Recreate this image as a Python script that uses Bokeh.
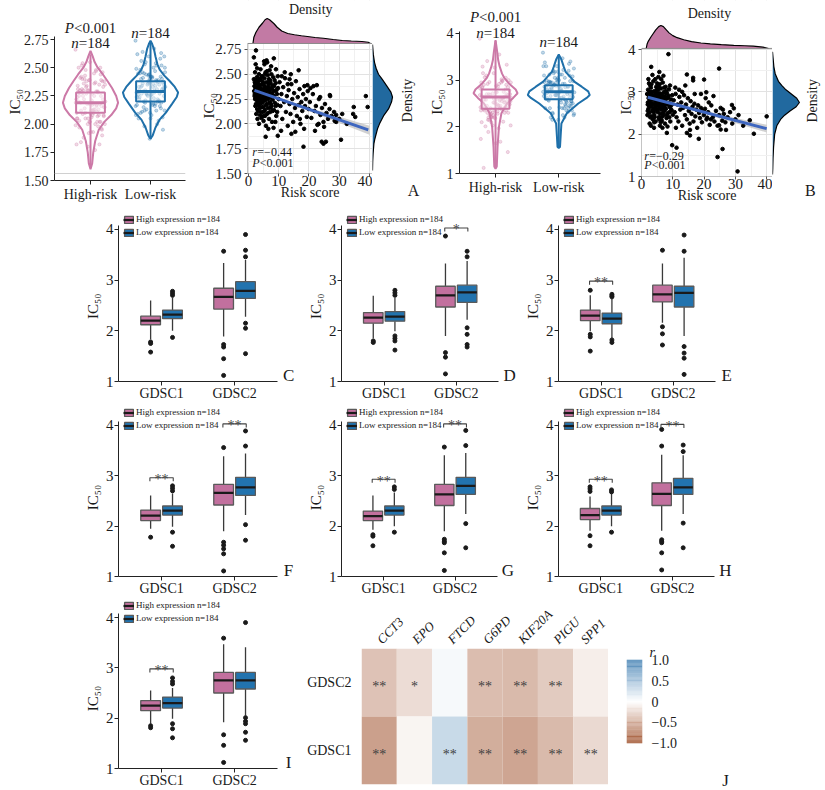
import numpy as np
from math import pi
from bokeh.plotting import figure
from bokeh.layouts import row, column
from bokeh.models import (Range1d, FixedTicker, SingleIntervalTicker, Label, Span, Legend,
                          LegendItem, ColumnDataSource, FactorRange, NumeralTickFormatter, Title)
from bokeh.transform import dodge
from bokeh.embed import file_html
from bokeh.resources import INLINE
from bokeh.core.properties import value

# ============================ DATA ============================
# Scatter A: (risk score, IC50)
scatter_A_pts = [
    (2.5, 2.74), (1.8, 2.67), (6.0, 2.64), (5.2, 2.63), (8.4, 2.66), (13.6, 2.45), (16.6, 2.54),
    (19.5, 2.39), (22.6, 2.39), (38.8, 2.28), (34.8, 2.17), (34.6, 2.10), (35.3, 2.07), (39.4, 2.17),
    (30.6, 1.84), (24.2, 1.82), (24.8, 1.80), (25.6, 1.82), (18.2, 1.77), (5.7, 1.87), (9.7, 1.88),
    (14.2, 1.90), (29.0, 2.09), (28.5, 2.03), (26.9, 2.29), (23.7, 2.27), (23.2, 2.00),
    (1.8, 2.45), (2.0, 2.38), (2.1, 2.30), (2.2, 2.25), (2.3, 2.41), (2.4, 2.33), (2.5, 2.20), (2.6, 2.36),
    (2.7, 2.28), (2.8, 2.47), (2.9, 2.15), (3.0, 2.31), (3.1, 2.42), (3.2, 2.22), (3.3, 2.37), (3.4, 2.27),
    (3.5, 2.50), (3.6, 2.18), (3.7, 2.34), (3.8, 2.29), (3.9, 2.44), (4.0, 2.24), (4.1, 2.39), (4.2, 2.12),
    (4.3, 2.32), (4.4, 2.26), (4.5, 2.48), (4.6, 2.21), (4.7, 2.35), (4.8, 2.08), (4.9, 2.30), (5.0, 2.41),
    (2.2, 2.52), (2.6, 2.10), (3.0, 2.05), (3.5, 2.00), (4.0, 2.55), (2.4, 2.60), (1.9, 2.33), (2.9, 2.56),
    (3.8, 2.16), (4.6, 2.43), (5.0, 2.17), (2.3, 2.18), (3.3, 2.45), (4.3, 2.06), (2.1, 2.42), (2.7, 2.24),
    (3.6, 2.39), (4.8, 2.27),
    (5.1, 2.33), (5.2, 2.23), (5.3, 2.46), (5.4, 2.14), (5.5, 2.37), (5.6, 2.28), (5.7, 2.52), (5.8, 2.19),
    (5.9, 2.31), (6.0, 2.42), (6.1, 2.10), (6.2, 2.35), (6.3, 2.25), (6.4, 2.49), (6.5, 2.16), (6.6, 2.29),
    (6.7, 2.40), (6.8, 2.05), (6.9, 2.33), (7.0, 2.22), (7.1, 2.44), (7.2, 2.12), (7.3, 2.36), (7.4, 2.27),
    (7.5, 2.58), (7.6, 2.18), (7.7, 2.31), (7.8, 2.02), (7.9, 2.39), (8.0, 2.24), (8.2, 2.47), (8.4, 2.14),
    (8.6, 2.33), (8.8, 2.21), (9.0, 2.41), (9.2, 2.08), (9.4, 2.30), (9.6, 2.19), (9.8, 2.36), (10.0, 2.25),
    (5.3, 2.60), (6.2, 2.62), (7.0, 2.54), (5.8, 1.98), (6.6, 1.95), (8.3, 1.96), (9.1, 2.55), (5.5, 2.08),
    (6.8, 2.45), (7.6, 2.50), (8.9, 2.02), (9.7, 2.48), (5.0, 2.03), (6.0, 2.26), (7.3, 2.16), (8.5, 2.38),
    (9.5, 2.12),
    (10.3, 2.42), (10.6, 2.18), (10.9, 2.30), (11.2, 2.05), (11.5, 2.37), (11.8, 2.22), (12.1, 2.46),
    (12.4, 2.12), (12.7, 2.28), (13.0, 1.98), (13.3, 2.34), (13.6, 2.20), (13.9, 2.10), (14.2, 2.40),
    (14.5, 2.25), (14.8, 2.02), (15.1, 2.31), (15.4, 2.16), (15.7, 2.43), (16.0, 2.08), (16.3, 2.27),
    (16.6, 2.19), (16.9, 2.35), (17.2, 2.00), (17.5, 2.22), (17.8, 2.13), (18.1, 2.30), (18.4, 1.95),
    (18.7, 2.18), (19.0, 2.25), (19.3, 2.07), (19.6, 2.33), (19.9, 2.15), (10.8, 1.93), (12.0, 2.52),
    (14.0, 2.50), (15.5, 1.92), (17.0, 2.05), (11.0, 2.48), (13.0, 2.40),
    (20.3, 2.22), (20.8, 2.06), (21.3, 2.30), (21.8, 2.13), (22.3, 2.18), (22.8, 1.99), (23.3, 2.25),
    (23.8, 2.09), (24.3, 2.16), (24.8, 2.02), (25.3, 2.20), (25.8, 2.11), (26.3, 2.05), (26.8, 2.15),
    (27.5, 2.08), (28.3, 2.12), (29.0, 2.02), (30.0, 2.05), (31.0, 2.10), (32.5, 2.00), (20.5, 2.36),
    (21.5, 2.38), (22.0, 1.93), (25.0, 1.97), (27.0, 2.28), (18.5, 2.38),
    (2.05, 2.28), (2.35, 2.36), (2.65, 2.19), (2.95, 2.40), (3.25, 2.26), (3.55, 2.31), (3.85, 2.21),
    (4.15, 2.35), (4.45, 2.17), (4.75, 2.40), (5.05, 2.27), (5.35, 2.38), (5.65, 2.24), (5.95, 2.34),
    (6.25, 2.20), (6.55, 2.37), (6.85, 2.26), (7.15, 2.30), (7.45, 2.20), (7.75, 2.35), (8.05, 2.13),
    (8.35, 2.28), (8.65, 2.44), (8.95, 2.18), (9.25, 2.34), (3.15, 2.13), (4.05, 2.46), (5.45, 2.50),
    (6.45, 2.11), (7.25, 2.42), (2.55, 2.44), (3.75, 2.09), (4.95, 2.12), (6.15, 2.53), (7.95, 2.29),
]

# Scatter B: (risk score, IC50)
scatter_B_pts = [
    (8.6, 3.89), (24.8, 3.55), (3.1, 3.59), (5.7, 3.47), (14.5, 3.41), (16.5, 3.33), (16.5, 3.27),
    (20.0, 3.29), (20.7, 2.99), (28.9, 2.69), (29.5, 2.61), (34.6, 2.33), (35.9, 2.01), (40.0, 2.42),
    (8.1, 2.03), (9.8, 1.74), (11.2, 1.68), (18.3, 1.89), (24.3, 1.46), (25.9, 1.65), (30.7, 1.12),
    (25.3, 2.11), (24.8, 2.21), (14.5, 2.03), (15.5, 1.97), (21.0, 2.39), (22.2, 2.35),
    (1.8, 2.95), (2.0, 2.70), (2.1, 3.05), (2.2, 2.60), (2.3, 2.85), (2.4, 3.20), (2.5, 2.50), (2.6, 2.78),
    (2.7, 2.95), (2.8, 2.40), (2.9, 2.88), (3.0, 3.10), (3.1, 2.65), (3.2, 2.82), (3.3, 2.55), (3.4, 3.00),
    (3.5, 2.72), (3.6, 2.35), (3.7, 2.90), (3.8, 3.25), (3.9, 2.62), (4.0, 2.80), (4.1, 2.45), (4.2, 3.02),
    (4.3, 2.70), (4.4, 2.92), (4.5, 2.30), (4.6, 2.76), (4.7, 3.12), (4.8, 2.58), (4.9, 2.86), (5.0, 2.68),
    (2.2, 3.30), (2.6, 2.25), (3.0, 2.20), (3.5, 3.40), (4.0, 2.15), (4.4, 3.30), (1.9, 2.45), (2.8, 3.15),
    (3.3, 2.98), (3.9, 2.52), (4.6, 2.97), (5.0, 3.20), (2.4, 2.68), (3.6, 2.86), (4.2, 2.40), (4.8, 2.95),
    (2.0, 2.55), (3.2, 2.42),
    (5.1, 2.90), (5.2, 2.52), (5.3, 3.05), (5.4, 2.74), (5.5, 2.40), (5.6, 2.96), (5.7, 2.62), (5.8, 3.18),
    (5.9, 2.80), (6.0, 2.48), (6.1, 2.88), (6.2, 3.08), (6.3, 2.58), (6.4, 2.76), (6.5, 2.32), (6.6, 2.94),
    (6.7, 2.66), (6.8, 3.22), (6.9, 2.84), (7.0, 2.44), (7.1, 2.72), (7.2, 3.00), (7.3, 2.55), (7.4, 2.90),
    (7.5, 2.25), (7.6, 2.78), (7.7, 3.12), (7.8, 2.60), (7.9, 2.84), (8.0, 2.38), (8.2, 2.96), (8.4, 2.50),
    (8.6, 2.74), (8.8, 3.06), (9.0, 2.64), (9.2, 2.30), (9.4, 2.82), (9.6, 2.56), (9.8, 2.92), (10.0, 2.46),
    (5.4, 3.35), (6.3, 3.30), (7.0, 3.38), (5.9, 2.20), (6.7, 2.15), (8.3, 2.18), (9.1, 3.15), (5.6, 2.35),
    (6.9, 2.62), (7.8, 2.98), (8.9, 2.40), (9.7, 2.70), (5.2, 2.78), (6.1, 2.70), (7.4, 2.68), (8.5, 2.86),
    (9.5, 2.58),
    (10.3, 2.80), (10.6, 2.52), (10.9, 2.95), (11.2, 2.40), (11.5, 2.70), (11.8, 2.30), (12.1, 2.88),
    (12.4, 2.58), (12.7, 2.75), (13.0, 2.20), (13.3, 2.62), (13.6, 2.92), (13.9, 2.45), (14.2, 2.70),
    (14.5, 2.35), (14.8, 2.85), (15.1, 2.55), (15.4, 2.25), (15.7, 2.78), (16.0, 2.48), (16.3, 2.65),
    (16.6, 2.30), (16.9, 2.72), (17.2, 2.42), (17.5, 2.58), (17.8, 2.15), (18.1, 2.68), (18.4, 2.50),
    (18.7, 2.38), (19.0, 2.62), (19.3, 2.28), (19.6, 2.55), (19.9, 2.45), (10.8, 3.10), (12.0, 3.05),
    (14.0, 3.15), (15.5, 2.10), (17.0, 2.95), (11.0, 2.15), (13.0, 3.00),
    (20.3, 2.60), (20.8, 2.35), (21.3, 2.52), (21.8, 2.22), (22.3, 2.68), (22.8, 2.40), (23.3, 2.30),
    (23.8, 2.55), (24.3, 2.20), (24.8, 2.45), (25.3, 2.62), (25.8, 2.32), (26.3, 2.48), (26.8, 2.28),
    (27.5, 2.40), (28.3, 2.52), (29.0, 2.25), (30.0, 2.35), (31.0, 2.45), (32.5, 2.20), (20.5, 2.85),
    (21.5, 2.75), (23.0, 2.90), (26.0, 2.58), (27.0, 2.10), (19.0, 2.95),
    (2.05, 2.75), (2.35, 2.92), (2.65, 2.66), (2.95, 2.98), (3.25, 2.72), (3.55, 2.84), (3.85, 2.58),
    (4.15, 2.88), (4.45, 2.64), (4.75, 2.82), (5.05, 2.56), (5.35, 2.86), (5.65, 2.68), (5.95, 2.96),
    (6.25, 2.60), (6.55, 2.80), (6.85, 2.50), (7.15, 2.86), (7.45, 2.62), (7.75, 2.74), (8.05, 2.46),
    (8.35, 2.70), (8.65, 2.90), (8.95, 2.52), (9.25, 2.66), (3.15, 3.18), (4.05, 2.28), (5.45, 3.12),
    (6.45, 2.40), (7.25, 3.10), (2.55, 3.00), (3.75, 2.40), (4.95, 3.05), (6.15, 2.28), (7.95, 3.02),
]

# regression (intercept, slope), r and p
fit_A = [2.358, -0.01056]
fit_B = [2.91, -0.0195]
fit_x_span_A = [2.0, 39.6]
fit_x_span_B = [2.0, 40.0]
r_text_A = "=−0.44"
r_text_B = "=−0.29"
band_x = [1.5, 5, 8, 12, 18, 25, 32, 40]
band_A_hw = [0.018, 0.013, 0.011, 0.011, 0.015, 0.024, 0.034, 0.045]
band_B_hw = [0.036, 0.027, 0.022, 0.023, 0.032, 0.050, 0.068, 0.090]

# marginal densities (relative)
dens_top_A_x = [1.5, 1.8, 2.5, 3.5, 4.7, 5.5, 6.2, 7.0, 8.4, 9.5, 11, 13, 15.2, 17.5, 19.5, 22, 24.8,
                28, 31, 34, 37.5, 39.6, 40.3]
dens_top_A = [0.0, 0.25, 0.45, 0.65, 0.82, 0.95, 1.0, 0.95, 0.8, 0.65, 0.5, 0.4, 0.35, 0.31, 0.28, 0.24,
              0.21, 0.16, 0.12, 0.1, 0.08, 0.05, 0.0]
dens_right_A_y = [1.53, 1.62, 1.70, 1.80, 1.85, 1.95, 2.00, 2.08, 2.15, 2.22, 2.27, 2.32, 2.38, 2.45, 2.50,
                  2.56, 2.62, 2.70, 2.80]
dens_right_A = [0.0, 0.01, 0.03, 0.07, 0.12, 0.25, 0.35, 0.55, 0.8, 0.95, 1.0, 0.92, 0.72, 0.48, 0.3,
                0.18, 0.1, 0.04, 0.0]
dens_top_B_x = [1.5, 1.8, 2.1, 3.0, 3.6, 4.5, 5.5, 6.2, 7.0, 8.0, 8.8, 10, 11.4, 13.5, 16, 19, 22, 25.5,
                29.5, 33, 35.7, 38.8, 40.6]
dens_top_B = [0.0, 0.2, 0.3, 0.5, 0.62, 0.8, 0.95, 1.0, 0.95, 0.8, 0.68, 0.56, 0.47, 0.38, 0.3, 0.24, 0.2,
              0.17, 0.14, 0.12, 0.1, 0.06, 0.0]
dens_right_B_y = [1.05, 1.2, 1.44, 1.7, 2.0, 2.2, 2.35, 2.45, 2.55, 2.65, 2.75, 2.85, 2.95, 3.05, 3.15,
                  3.25, 3.43, 3.6, 3.95]
dens_right_B = [0.0, 0.01, 0.02, 0.04, 0.08, 0.16, 0.3, 0.45, 0.65, 0.88, 1.0, 0.9, 0.7, 0.5, 0.35, 0.22,
                0.1, 0.05, 0.0]

# violins (IC50 level, relative density)
groups = ["High-risk", "Low-risk"]
vio_A_hi_y = [1.60, 1.65, 1.75, 1.85, 1.95, 2.02, 2.08, 2.14, 2.19, 2.25, 2.32, 2.38, 2.44, 2.50, 2.55,
              2.60, 2.65]
vio_A_hi_d = [0.0, 0.06, 0.1, 0.17, 0.3, 0.5, 0.75, 0.93, 1.0, 0.93, 0.78, 0.62, 0.45, 0.26, 0.15, 0.08,
              0.0]
vio_A_lo_y = [1.87, 1.90, 1.97, 2.04, 2.10, 2.18, 2.24, 2.28, 2.33, 2.38, 2.43, 2.48, 2.53, 2.60, 2.67,
              2.71, 2.74]
vio_A_lo_d = [0.0, 0.08, 0.18, 0.33, 0.55, 0.78, 0.95, 1.0, 0.88, 0.7, 0.5, 0.34, 0.25, 0.18, 0.12,
              0.06, 0.0]
vio_B_hi_y = [1.10, 1.15, 1.57, 2.0, 2.29, 2.50, 2.62, 2.72, 2.80, 2.93, 3.05, 3.14, 3.30, 3.43, 3.60,
              3.86]
vio_B_hi_d = [0.0, 0.04, 0.065, 0.11, 0.19, 0.37, 0.57, 0.71, 0.65, 0.43, 0.28, 0.21, 0.13, 0.085,
              0.055, 0.0]
vio_B_lo_y = [1.55, 1.57, 1.80, 2.07, 2.29, 2.50, 2.62, 2.68, 2.76, 2.86, 2.97, 3.07, 3.18, 3.29, 3.45,
              3.55]
vio_B_lo_d = [0.0, 0.04, 0.06, 0.085, 0.26, 0.63, 0.9, 1.0, 0.95, 0.74, 0.5, 0.37, 0.22, 0.16, 0.08, 0.0]
# violin boxes: [whisker low, q1, median, q3, whisker high]
vbox_A_hi = [1.62, 2.10, 2.19, 2.28, 2.62]
vbox_A_lo = [1.87, 2.20, 2.29, 2.38, 2.72]
vbox_B_hi = [1.12, 2.39, 2.64, 2.80, 3.84]
vbox_B_lo = [1.56, 2.59, 2.75, 2.89, 3.54]

# box plot panels C-I: per drug set [GDSC1, GDSC2], each [whisk low, q1, median, q3, whisk high]
drugs_x = ["GDSC1", "GDSC2"]
C_high = [[1.83, 2.12, 2.20, 2.29, 2.60], [1.89, 2.43, 2.67, 2.84, 3.34]]
C_high_out = [[1.78, 1.75, 1.58], [3.57, 1.73, 1.68, 1.45, 1.12]]
C_low = [[2.00, 2.24, 2.32, 2.41, 2.66], [2.28, 2.64, 2.79, 2.97, 3.40]]
C_low_out = [[2.78, 2.74, 2.70, 1.87], [3.90, 3.59, 3.46, 2.15, 2.05, 1.55]]
C_sig = []

D_high = [[1.85, 2.15, 2.26, 2.36, 2.69], [1.90, 2.47, 2.70, 2.88, 3.33]]
D_high_out = [[1.80, 1.77], [3.87, 1.57, 1.48, 1.15]]
D_low = [[1.99, 2.19, 2.28, 2.38, 2.65], [2.22, 2.56, 2.76, 2.90, 3.38]]
D_low_out = [[2.80, 2.75, 2.70, 1.90, 1.85, 1.80, 1.62], [3.57, 3.46, 2.06, 1.93, 1.73, 1.68]]
D_sig = [(1, "*", 4.03)]

E_high = [[1.99, 2.20, 2.30, 2.41, 2.70], [2.16, 2.57, 2.72, 2.90, 3.33]]
E_high_out = [[2.80, 1.93, 1.88, 1.60], [3.59, 2.08, 1.94, 1.72]]
E_low = [[1.86, 2.14, 2.24, 2.35, 2.64], [1.90, 2.47, 2.75, 2.88, 3.44]]
E_low_out = [[2.72, 2.69, 2.67, 1.82, 1.77], [3.89, 3.57, 1.69, 1.56, 1.46, 1.14]]
E_sig = [(0, "**", 2.98)]

F_high = [[1.95, 2.11, 2.21, 2.32, 2.61], [1.90, 2.42, 2.66, 2.83, 3.39]]
F_high_out = [[1.78], [3.56, 1.68, 1.62, 1.55, 1.45, 1.11]]
F_low = [[1.99, 2.22, 2.31, 2.40, 2.65], [2.22, 2.61, 2.77, 2.97, 3.44]]
F_low_out = [[2.80, 2.75, 2.70, 1.88, 1.60], [3.89, 3.59, 2.03, 1.72]]
F_sig = [(0, "**", 2.96), (1, "**", 4.03)]

G_high = [[1.93, 2.11, 2.20, 2.30, 2.61], [1.90, 2.41, 2.63, 2.83, 3.41]]
G_high_out = [[1.83, 1.80, 1.61], [3.57, 1.74, 1.70, 1.67, 1.47, 1.12]]
G_low = [[2.00, 2.22, 2.31, 2.40, 2.67], [2.24, 2.63, 2.80, 2.97, 3.45]]
G_low_out = [[2.78, 2.73, 1.88], [3.90, 3.60, 2.05, 1.57]]
G_sig = [(0, "**", 2.93), (1, "**", 4.03)]

H_high = [[1.91, 2.13, 2.22, 2.35, 2.59], [1.91, 2.41, 2.64, 2.86, 3.42]]
H_high_out = [[2.78, 2.74, 2.69, 1.81, 1.61], [3.92, 3.59, 1.73, 1.70, 1.67, 1.47, 1.13]]
H_low = [[2.00, 2.22, 2.31, 2.40, 2.64], [2.24, 2.63, 2.77, 2.95, 3.41]]
H_low_out = [[2.72, 2.68, 1.88], [3.61, 3.48, 2.06, 1.57]]
H_sig = [(0, "**", 2.93), (1, "**", 4.02)]

I_high = [[1.89, 2.15, 2.25, 2.35, 2.55], [1.92, 2.50, 2.75, 2.91, 3.47]]
I_high_out = [[1.85, 1.81], [3.59, 1.67, 1.46, 1.12]]
I_low = [[1.99, 2.20, 2.30, 2.42, 2.60], [2.05, 2.58, 2.75, 2.91, 3.41]]
I_low_out = [[2.80, 2.73, 2.68, 1.89, 1.79, 1.61], [3.90, 2.01, 1.94, 1.89, 1.72, 1.56]]
I_sig = [(0, "**", 2.98)]

# heatmap J
genes = ["CCT3", "EPO", "FTCD", "G6PD", "KIF20A", "PIGU", "SPP1"]
r_GDSC2 = [-0.35, -0.20, 0.05, -0.38, -0.40, -0.30, -0.10]
r_GDSC1 = [-0.55, -0.06, 0.30, -0.47, -0.52, -0.40, -0.22]
sig_GDSC2 = ["**", "*", "", "**", "**", "**", ""]
sig_GDSC1 = ["**", "", "**", "**", "**", "**", "**"]
cbar_ticks = [-1, -0.5, 0, 0.5, 1]
cbar_labels = ["−1.0", "−0.5", "0", "0.5", "1.0"]

# ============================ STYLE ============================
FONT = "Liberation Serif"
PINK = "#CC79A7"
BLUE = "#1F70AA"
PINK_BOX = "#C2709E"
BLUE_BOX = "#2273AE"
DENS_PINK = "#C27AA4"
DENS_BLUE = "#21699F"
TXT = "#1A1A1A"
BW = 0.27
DODGE = 0.15
SIENNA = (160, 82, 45)
STEEL = (70, 130, 180)
NB = "\u00a0"   # used to nudge the axis title along the axis


def div_color(v):
    base = STEEL if v > 0 else SIENNA
    t = min(abs(v), 1.0)
    c = [255 + (base[i] - 255) * t for i in range(3)]
    return "#%02x%02x%02x" % tuple(int(round(x)) for x in c)


def mkfig(w, h, xr, yr, left, right, top, bottom, **kw):
    p = figure(width=w, height=h, x_range=xr, y_range=yr, output_backend="svg",
               toolbar_location=None, title=None, min_border_left=left, min_border_right=right,
               min_border_top=top, min_border_bottom=bottom, frame_align=False, **kw)
    p.outline_line_color = None
    p.background_fill_color = "white"
    p.border_fill_color = "white"
    p.grid.visible = False
    return p


def label(p, x, y, text, size=14, align="center", baseline="middle", italic=False, angle=0,
          color=TXT, x_offset=0):
    p.add_layout(Label(x=x, y=y, text=text, text_font=FONT, text_font_size=f"{size}px",
                       text_align=align, text_baseline=baseline,
                       text_font_style="italic" if italic else "normal", angle=angle,
                       text_color=color, x_offset=x_offset))


def mixed(p, x, y, ital, rest, size, split):
    label(p, x, y, ital, size, align="right", italic=True, x_offset=split)
    label(p, x, y, rest, size, align="left", x_offset=split)


def jitter(c, n, spread):
    return [c + (((i * 0.6180339887) % 1.0) - 0.5) * 2 * spread for i in range(n)]


def ylabel(ax, size, standoff, nudge=0):
    ax.axis_label = "IC₅₀" + NB * nudge
    ax.axis_label_text_font = FONT
    ax.axis_label_text_font_size = f"{size}px"
    ax.axis_label_text_font_style = "normal"
    ax.axis_label_text_color = TXT
    ax.axis_label_standoff = standoff


# ============================ VIOLINS ============================
def violin_fig(w, h, xr, yr, left, right, bottom, ybounds, yticks, fmt, vios, boxes, pts, scale,
               box_hw, lab_standoff, nudge):
    p = mkfig(w, h, xr, yr, left, right, 0, bottom)
    p.xaxis.ticker = FixedTicker(ticks=[1, 2])
    p.xaxis.major_label_overrides = {1: groups[0], 2: groups[1]}
    p.yaxis.ticker = FixedTicker(ticks=yticks)
    p.yaxis.bounds = ybounds
    if fmt:
        p.yaxis.formatter = NumeralTickFormatter(format=fmt)
    for ax in p.axis:
        ax.axis_line_color = "#222"
        ax.major_tick_line_color = "#222"
        ax.major_tick_out = 4
        ax.major_tick_in = 0
        ax.minor_tick_line_color = None
        ax.major_label_text_font = FONT
        ax.major_label_text_font_size = "14px"
        ax.major_label_text_color = TXT
        ax.major_label_standoff = 2
    ylabel(p.yaxis[0], 15, lab_standoff, nudge)
    for c, (ys, ds), bx, gp, col in zip([1, 2], vios, boxes, pts, [PINK, BLUE]):
        xl = [c - scale * d for d in ds]
        xr_ = [c + scale * d for d in ds][::-1]
        p.patch(xl + xr_, list(ys) + list(ys)[::-1], fill_alpha=0, line_color=col, line_width=2)
        p.segment([c], [bx[0]], [c], [bx[4]], line_color=col, line_width=2)
        p.scatter(jitter(c, len(gp), 0.25), list(gp), size=3.2, color=col, alpha=0.28)
        p.quad(left=[c - box_hw], right=[c + box_hw], bottom=[bx[1]], top=[bx[3]],
               fill_color="white", fill_alpha=0.45, line_color=col, line_width=2)
        p.segment([c - box_hw], [bx[2]], [c + box_hw], [bx[2]], line_color=col, line_width=3)
    return p


ptsA = np.array(scatter_A_pts)
ptsB = np.array(scatter_B_pts)
medA = np.median(ptsA[:, 0])
medB = np.median(ptsB[:, 0])
hiA, loA = ptsA[ptsA[:, 0] > medA, 1], ptsA[ptsA[:, 0] <= medA, 1]
hiB, loB = ptsB[ptsB[:, 0] > medB, 1], ptsB[ptsB[:, 0] <= medB, 1]

vA = violin_fig(198, 208, Range1d(0.40, 2.583), Range1d(1.5, 3.096), 54, 13, 28, (1.5, 2.777),
                [1.5, 1.75, 2.0, 2.25, 2.5, 2.75], "0.00",
                [(vio_A_hi_y, vio_A_hi_d), (vio_A_lo_y, vio_A_lo_d)], [vbox_A_hi, vbox_A_lo],
                [hiA, loA], 0.46, 0.24, -2, 6)
vA.add_layout(Span(location=1.562, dimension="width", line_color="#D0D0D0", line_width=1))
mixed(vA, 1, 2.856, "P", "<0.001", 15, -16.5)
mixed(vA, 1, 2.723, "n", "=184", 15, -11.7)
mixed(vA, 2, 2.812, "n", "=184", 15, -11.7)

vB = violin_fig(190, 208, Range1d(0.43, 2.66), Range1d(1, 4.707), 30, 15, 35, (1, 4.04),
                [1, 2, 3, 4], None,
                [(vio_B_hi_y, vio_B_hi_d), (vio_B_lo_y, vio_B_lo_d)], [vbox_B_hi, vbox_B_lo],
                [hiB, loB], 0.49, 0.22, -1, 8)
mixed(vB, 1, 4.364, "P", "<0.001", 15, -16.5)
mixed(vB, 1, 4.02, "n", "=184", 15, -11.7)
mixed(vB, 2, 3.81, "n", "=184", 15, -11.7)


# ============================ SCATTERS ============================
# one figure per scatter: the frame also holds the top marginal density (own y range)
def scatter_fig(w, h, xr, yr, data_top, dens_range, left, bottom, pts, fit, xspan, band_hw,
                ytick, fmt, ylab_standoff, nudge, ylab_size, dens_x, dens):
    p = mkfig(w, h, xr, yr, left, 0, 0, bottom)
    xt = SingleIntervalTicker(interval=10, num_minor_ticks=2)
    yt = SingleIntervalTicker(interval=ytick, num_minor_ticks=2)
    p.xaxis.ticker = xt
    p.xgrid.ticker = xt
    p.yaxis.ticker = yt
    p.ygrid.ticker = yt
    p.yaxis.bounds = (yr.start, data_top)
    if fmt:
        p.yaxis.formatter = NumeralTickFormatter(format=fmt)
    p.grid.visible = True
    p.grid.grid_line_color = "#E2E2E2"
    p.grid.minor_grid_line_color = "#F0F0F0"
    for ax in p.axis:
        ax.axis_line_color = None
        ax.major_tick_line_color = "#555"
        ax.major_tick_out = 3
        ax.major_tick_in = 0
        ax.minor_tick_line_color = None
        ax.major_label_text_font = FONT
        ax.major_label_text_font_size = "15px"
        ax.major_label_text_color = TXT
    p.xaxis.major_label_standoff = -2
    p.yaxis.major_label_standoff = 2
    p.xaxis.axis_label = "Risk score"
    p.xaxis.axis_label_text_font = FONT
    p.xaxis.axis_label_text_font_size = "14px"
    p.xaxis.axis_label_text_font_style = "normal"
    p.xaxis.axis_label_text_color = TXT
    p.xaxis.axis_label_standoff = -4
    ylabel(p.yaxis[0], ylab_size, ylab_standoff, nudge)
    # white area above the panel (marginal density region)
    p.quad(left=[xr.start], right=[xr.end], bottom=[data_top], top=[yr.end], fill_color="white",
           line_color=None)
    p.extra_y_ranges = {"dens": dens_range}
    p.varea(x=dens_x, y1=[0] * len(dens_x), y2=dens, fill_color=DENS_PINK, fill_alpha=1,
            y_range_name="dens")
    p.line(dens_x, dens, line_color="black", line_width=1.2, y_range_name="dens")
    bx = np.array(band_x, dtype=float)
    fy = fit[0] + fit[1] * bx
    p.varea(x=bx, y1=fy - np.array(band_hw), y2=fy + np.array(band_hw), fill_color="#B8B8B8",
            fill_alpha=0.65)
    p.scatter(pts[:, 0], pts[:, 1], size=3.6, color="black")
    lx = np.array(xspan)
    p.line(lx, fit[0] + fit[1] * lx, line_color="#3F67C0", line_width=3)
    # panel border
    p.quad(left=[xr.start], right=[xr.end], bottom=[yr.start], top=[data_top], fill_alpha=0,
           line_color="#8A8A8A", line_width=1)
    return p


def right_density(w, h, yr, xmax, ys, ds):
    p = mkfig(w, h, Range1d(0, xmax), yr, 0, 0, 0, 0, x_axis_location=None,
              y_axis_location=None)
    p.harea(y=ys, x1=[0] * len(ys), x2=ds, fill_color=DENS_BLUE, fill_alpha=1)
    p.line(ds, ys, line_color="black", line_width=1.2)
    return p


scA = scatter_fig(174, 208, Range1d(-0.3, 41.0), Range1d(1.5, 3.243), 2.81, Range1d(-5.2, 1.72),
                  44, 35, ptsA, fit_A, fit_x_span_A, band_A_hw, 0.25, "0.00", -5, 10, 15,
                  dens_top_A_x, dens_top_A)
label(scA, 20.6, 3.153, "Density", size=14)
label(scA, 1.3, 1.712, "r", 12, align="left", italic=True)
label(scA, 1.3, 1.712, r_text_A, 12, align="left", x_offset=5)
label(scA, 1.3, 1.601, "P", 12, align="left", italic=True)
label(scA, 1.3, 1.601, "<0.001", 12, align="left", x_offset=7.5)
rdA = right_density(53, 208, Range1d(1.147, 3.243), 2.65, dens_right_A_y, dens_right_A)
label(rdA, 1.75, 2.236, "Density", size=14, angle=pi / 2)
label(rdA, 2.05, 1.329, "A", size=16)

scB = scatter_fig(157, 208, Range1d(0, 41.86), Range1d(1, 5.158), 4.026, Range1d(-5.565, 2.087),
                  22, 32, ptsB, fit_B, fit_x_span_B, band_B_hw, 1, None, -9, 8, 14,
                  dens_top_B_x, dens_top_B)
label(scB, 21.7, 4.853, "Density", size=14)
label(scB, 0.9, 1.49, "r", 12, align="left", italic=True)
label(scB, 0.9, 1.49, r_text_B, 12, align="left", x_offset=5)
label(scB, 0.9, 1.26, "P", 12, align="left", italic=True)
label(scB, 0.9, 1.26, "<0.001", 12, align="left", x_offset=7.5)
rdB = right_density(53, 208, Range1d(0.246, 5.160), 1.97, dens_right_B_y, dens_right_B)
label(rdB, 1.48, 2.79, "Density", size=14, angle=pi / 2)
label(rdB, 1.41, 0.67, "B", size=16)


# ============================ BOX PANELS ============================
def box_panel(w, h, left, bottom, ppu, leg_top, nudge, high, high_out, low, low_out, sig, letter):
    fh = h - bottom
    ytop = 1 + fh / ppu
    xright = 0.41 + (w - left) / 73.0
    p = mkfig(w, h, Range1d(0.41, xright), Range1d(1, ytop), left, 0, 0, bottom)
    p.xaxis.ticker = FixedTicker(ticks=[1, 2])
    p.xaxis.major_label_overrides = {1: drugs_x[0], 2: drugs_x[1]}
    p.xaxis.bounds = (0.41, 2.59)
    p.yaxis.ticker = FixedTicker(ticks=[1, 2, 3, 4])
    p.yaxis.bounds = (1, 4.08)
    for ax in p.axis:
        ax.axis_line_color = "#222"
        ax.major_tick_line_color = "#222"
        ax.major_tick_out = 4
        ax.major_tick_in = 0
        ax.minor_tick_line_color = None
        ax.major_label_text_font = FONT
        ax.major_label_text_color = TXT
    p.xaxis.major_label_standoff = 0
    p.yaxis.major_label_standoff = 1
    p.xaxis.major_label_text_font_size = "14px"
    p.yaxis.major_label_text_font_size = "15px"
    ylabel(p.yaxis[0], 15, 2, nudge)
    rends = []
    for stats, outs, col, dx in ((high, high_out, PINK_BOX, -DODGE), (low, low_out, BLUE_BOX, DODGE)):
        xs = [1 + dx, 2 + dx]
        lo = [s[0] for s in stats]
        q1 = [s[1] for s in stats]
        md = [s[2] for s in stats]
        q3 = [s[3] for s in stats]
        hi = [s[4] for s in stats]
        p.segment(xs, lo, xs, q1, line_color="#3A3A3A", line_width=1.3)
        p.segment(xs, q3, xs, hi, line_color="#3A3A3A", line_width=1.3)
        r = p.quad(left=[x - BW / 2 for x in xs], right=[x + BW / 2 for x in xs], bottom=q1, top=q3,
                   fill_color=col, line_color="#5A5A5A", line_width=1.3)
        m = p.segment([x - BW / 2 for x in xs], md, [x + BW / 2 for x in xs], md,
                      line_color="#1A1A1A", line_width=2.2)
        ox = [xs[g] for g in range(2) for _ in outs[g]]
        oy = [v for g in range(2) for v in outs[g]]
        p.scatter(ox, oy, size=4, color="#1A1A1A")
        rends.append([r, m])
    leg = Legend(items=[LegendItem(label=value("High expression n=184"), renderers=rends[0]),
                        LegendItem(label=value("Low expression n=184"), renderers=rends[1])],
                 location=(5, int(round(fh - leg_top - 21))), orientation="vertical",
                 glyph_width=11, glyph_height=9, label_height=9, label_width=10, spacing=3,
                 padding=0, margin=0, label_standoff=2, label_text_font=FONT,
                 label_text_font_size="9px", label_text_color="#222",
                 background_fill_alpha=0, border_line_color=None)
    p.add_layout(leg)
    for g, txt, yb in sig:
        xa, xb = g + 1 - 0.16, g + 1 + 0.16
        p.line([xa, xa, xb, xb], [yb - 0.07, yb, yb, yb - 0.07], line_color="#444", line_width=1.1)
        label(p, g + 1, yb - 0.035, txt, size=14, baseline="alphabetic", color="#444")
    label(p, 2.74, 1.12, letter, size=17)
    return p


pC = box_panel(304, 195, 118, 21, 50.97, 8.5, 6, C_high, C_high_out, C_low, C_low_out, C_sig, "C")
pD = box_panel(217, 195, 35, 21, 50.97, 8.5, 6, D_high, D_high_out, D_low, D_low_out, D_sig, "D")
pE = box_panel(304, 195, 34, 21, 50.97, 8.5, 6, E_high, E_high_out, E_low, E_low_out, E_sig, "E")
pF = box_panel(304, 195, 118, 21, 50.65, 7.5, 4, F_high, F_high_out, F_low, F_low_out, F_sig, "F")
pG = box_panel(217, 195, 33, 21, 50.65, 7.5, 4, G_high, G_high_out, G_low, G_low_out, G_sig, "G")
pH = box_panel(304, 195, 32, 21, 50.65, 7.5, 4, H_high, H_high_out, H_low, H_low_out, H_sig, "H")
pI = box_panel(304, 192, 118, 22, 50.32, 4.0, 8, I_high, I_high_out, I_low, I_low_out, I_sig, "I")

# ============================ HEATMAP ============================
heat = mkfig(304, 192, FactorRange(factors=genes), FactorRange(factors=["GDSC1", "GDSC2"]),
             53, 0, 42, 6, x_axis_location="above")
src = ColumnDataSource(dict(
    gene=genes + genes,
    drug=["GDSC2"] * len(genes) + ["GDSC1"] * len(genes),
    r=r_GDSC2 + r_GDSC1,
    sig=sig_GDSC2 + sig_GDSC1,
    col=[div_color(v) for v in r_GDSC2 + r_GDSC1],
))
heat.rect(x="gene", y="drug", width=1, height=1, source=src, fill_color="col", line_color=None)
heat.text(x="gene", y=dodge("drug", -0.06, range=heat.y_range), text="sig", source=src,
          text_font=value(FONT), text_font_size=value("14px"), text_align="center",
          text_baseline="middle", text_color="#404040")
for ax in heat.axis:
    ax.axis_line_color = None
    ax.major_tick_line_color = None
    ax.minor_tick_line_color = None
    ax.major_label_text_font = FONT
    ax.major_label_text_color = TXT
heat.xaxis.major_label_orientation = pi / 4
heat.xaxis.major_label_text_font_style = "italic"
heat.xaxis.major_label_text_font_size = "13px"
heat.xaxis.major_label_standoff = 1
heat.yaxis.major_label_text_font_size = "14px"
heat.yaxis.major_label_standoff = 4

# colour bar as its own small figure (frame = the bar)
cb = mkfig(84, 192, Range1d(0, 1), Range1d(-1.02, 1.02), 18, 50, 61, 47,
           x_axis_location=None, y_axis_location="right")
steps = np.linspace(-1.02, 1.02, 103)
cb.quad(left=0, right=1, bottom=steps[:-1], top=steps[1:],
        fill_color=[div_color((a + b) / 2) for a, b in zip(steps[:-1], steps[1:])], line_color=None)
cb.yaxis.ticker = FixedTicker(ticks=cbar_ticks)
cb.yaxis.major_label_overrides = {t: l for t, l in zip(cbar_ticks, cbar_labels)}
cb.yaxis.axis_line_color = None
cb.yaxis.major_tick_line_color = None
cb.yaxis.minor_tick_line_color = None
cb.yaxis.major_label_text_font = FONT
cb.yaxis.major_label_text_font_size = "14px"
cb.yaxis.major_label_text_color = TXT
cb.yaxis.major_label_standoff = 3
cb.title = Title(text="r", align="left", offset=23, standoff=0, vertical_align="bottom",
                 text_font=FONT, text_font_size="14px", text_font_style="italic", text_color=TXT)

jfig = mkfig(133, 192, Range1d(0, 133), Range1d(0, 192), 0, 0, 0, 0, x_axis_location=None,
             y_axis_location=None)
label(jfig, 33, 10, "J", size=17)

# ============================ LAYOUT ============================
top_row = row(vA, row(scA, rdA), vB, row(scB, rdB))
layout = column(top_row, row(pC, pD, pE), row(pF, pG, pH), row(pI, heat, cb, jfig))

open("out.html", "w").write(file_html(layout, INLINE))
